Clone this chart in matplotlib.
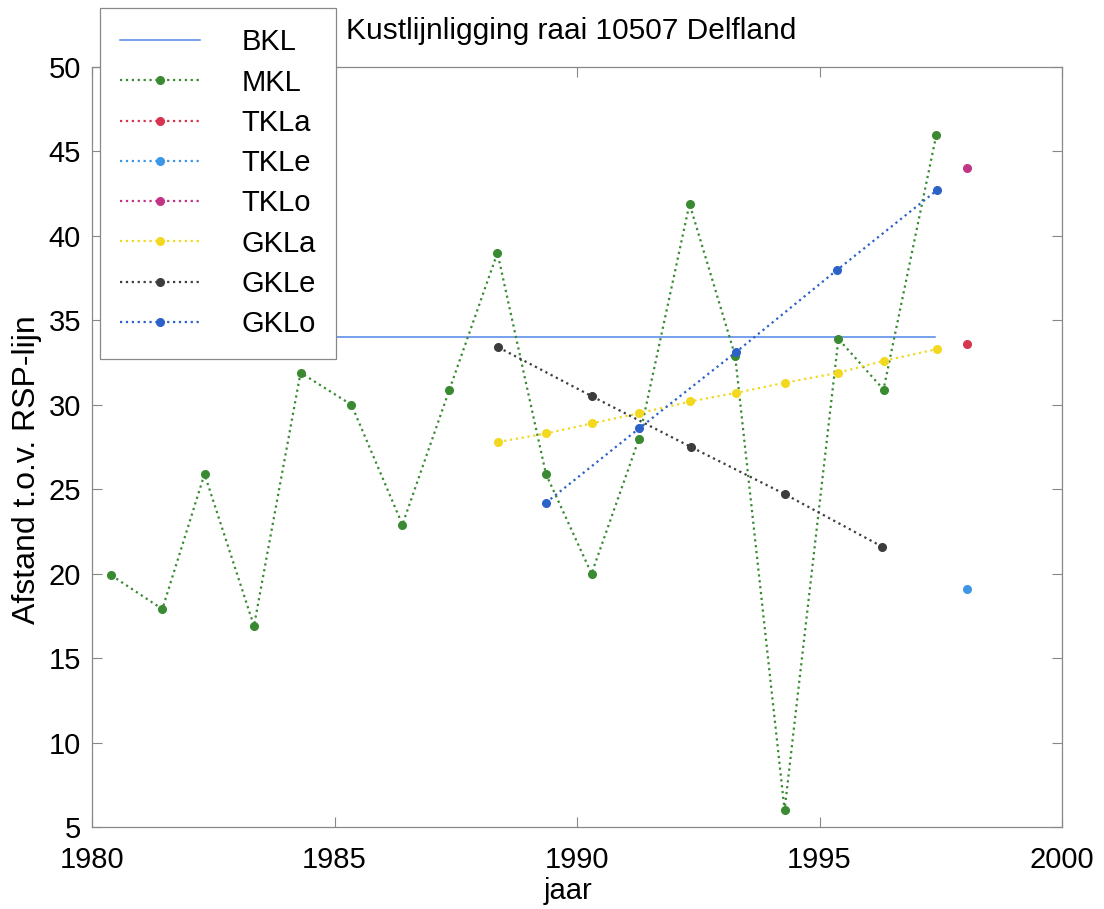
import numpy as np
import matplotlib
matplotlib.use('Agg')
import matplotlib.pyplot as plt

plt.rcParams['font.family'] = ['Liberation Sans', 'DejaVu Sans']

jaar_mkl = [1980.40, 1981.45, 1982.32, 1983.34, 1984.30, 1985.35, 1986.40, 1987.37, 1988.36,
            1989.36, 1990.30, 1991.28, 1992.32, 1993.26, 1994.28, 1995.39, 1996.32, 1997.41]
mkl = [19.9, 17.9, 25.9, 16.9, 31.9, 30.0, 22.9, 30.9, 39.0,
       25.9, 20.0, 28.0, 41.9, 32.9, 6.0, 33.9, 30.9, 46.0]

jaar_bkl = [1980.40, 1997.38]
bkl = [34.0, 34.0]

jaar_tkl = [1998.04]
tkla = [33.6]
tkle = [19.1]
tklo = [44.0]

jaar_gkla = [1988.38, 1989.36, 1990.31, 1991.28, 1992.34, 1993.27, 1994.28, 1995.39, 1996.32, 1997.43]
gkla = [27.8, 28.3, 28.9, 29.5, 30.2, 30.7, 31.3, 31.9, 32.6, 33.3]

jaar_gkle = [1988.38, 1990.31, 1992.35, 1994.29, 1996.29]
gkle = [33.4, 30.5, 27.5, 24.7, 21.6]

jaar_gklo = [1989.36, 1991.28, 1993.27, 1995.37, 1997.42]
gklo = [24.2, 28.6, 33.1, 38.0, 42.7]

kleuren = {'BKL': '#4f86e6', 'MKL': '#3a8a32', 'TKLa': '#d6344f', 'TKLe': '#3f95e6',
           'TKLo': '#c23585', 'GKLa': '#f2d81e', 'GKLe': '#3d3d3d', 'GKLo': '#2c62c8'}

fig = plt.figure(figsize=(11.04, 9.09), dpi=100)
ax = fig.add_axes([92/1104, 1-827/909, (1062-92)/1104, (827-67)/909])

fs = 21
ms = 5.5
lw = 1.6

ax.plot(jaar_bkl, bkl, '-', color=kleuren['BKL'], lw=1.1, label='BKL')
ax.plot(jaar_mkl, mkl, ':', marker='o', color=kleuren['MKL'], lw=lw, ms=ms, label='MKL')
ax.plot(jaar_tkl, tkla, ':', marker='o', color=kleuren['TKLa'], lw=lw, ms=ms, label='TKLa')
ax.plot(jaar_tkl, tkle, ':', marker='o', color=kleuren['TKLe'], lw=lw, ms=ms, label='TKLe')
ax.plot(jaar_tkl, tklo, ':', marker='o', color=kleuren['TKLo'], lw=lw, ms=ms, label='TKLo')
ax.plot(jaar_gkla, gkla, ':', marker='o', color=kleuren['GKLa'], lw=lw, ms=ms, label='GKLa')
ax.plot(jaar_gkle, gkle, ':', marker='o', color=kleuren['GKLe'], lw=lw, ms=ms, label='GKLe')
ax.plot(jaar_gklo, gklo, ':', marker='o', color=kleuren['GKLo'], lw=lw, ms=ms, label='GKLo')

ax.set_xlim(1980, 2000)
ax.set_ylim(5, 50)
ax.set_xticks(np.arange(1980, 2001, 5))
ax.set_yticks(np.arange(5, 51, 5))
ax.tick_params(direction='in', length=7, width=0.8, color='#888888',
               top=True, right=True, labelsize=fs)
ax.tick_params(axis='x', pad=14)
ax.tick_params(axis='y', pad=8)
for s in ax.spines.values():
    s.set_color('#888888')
    s.set_linewidth(0.9)

ax.set_xlabel('jaar', fontsize=fs)
ax.xaxis.set_label_coords(0.491, -0.066)
ax.set_ylabel('Afstand t.o.v. RSP-lijn', fontsize=23)
ax.yaxis.set_label_coords(-0.052, 0.47)
ax.set_title('Kustlijnligging raai 10507 Delfland', fontsize=21.5, pad=20, x=0.494)

leg = ax.legend(loc='upper left', bbox_to_anchor=(100/1104, 1-8/909), bbox_transform=fig.transFigure,
                borderaxespad=0, fontsize=fs, frameon=True, fancybox=False, framealpha=1,
                edgecolor='#888888', handlelength=2.74, handletextpad=1.4, labelspacing=0.42,
                borderpad=0.7)
leg.get_frame().set_linewidth(0.9)

fig.savefig('out.png', dpi=100)
